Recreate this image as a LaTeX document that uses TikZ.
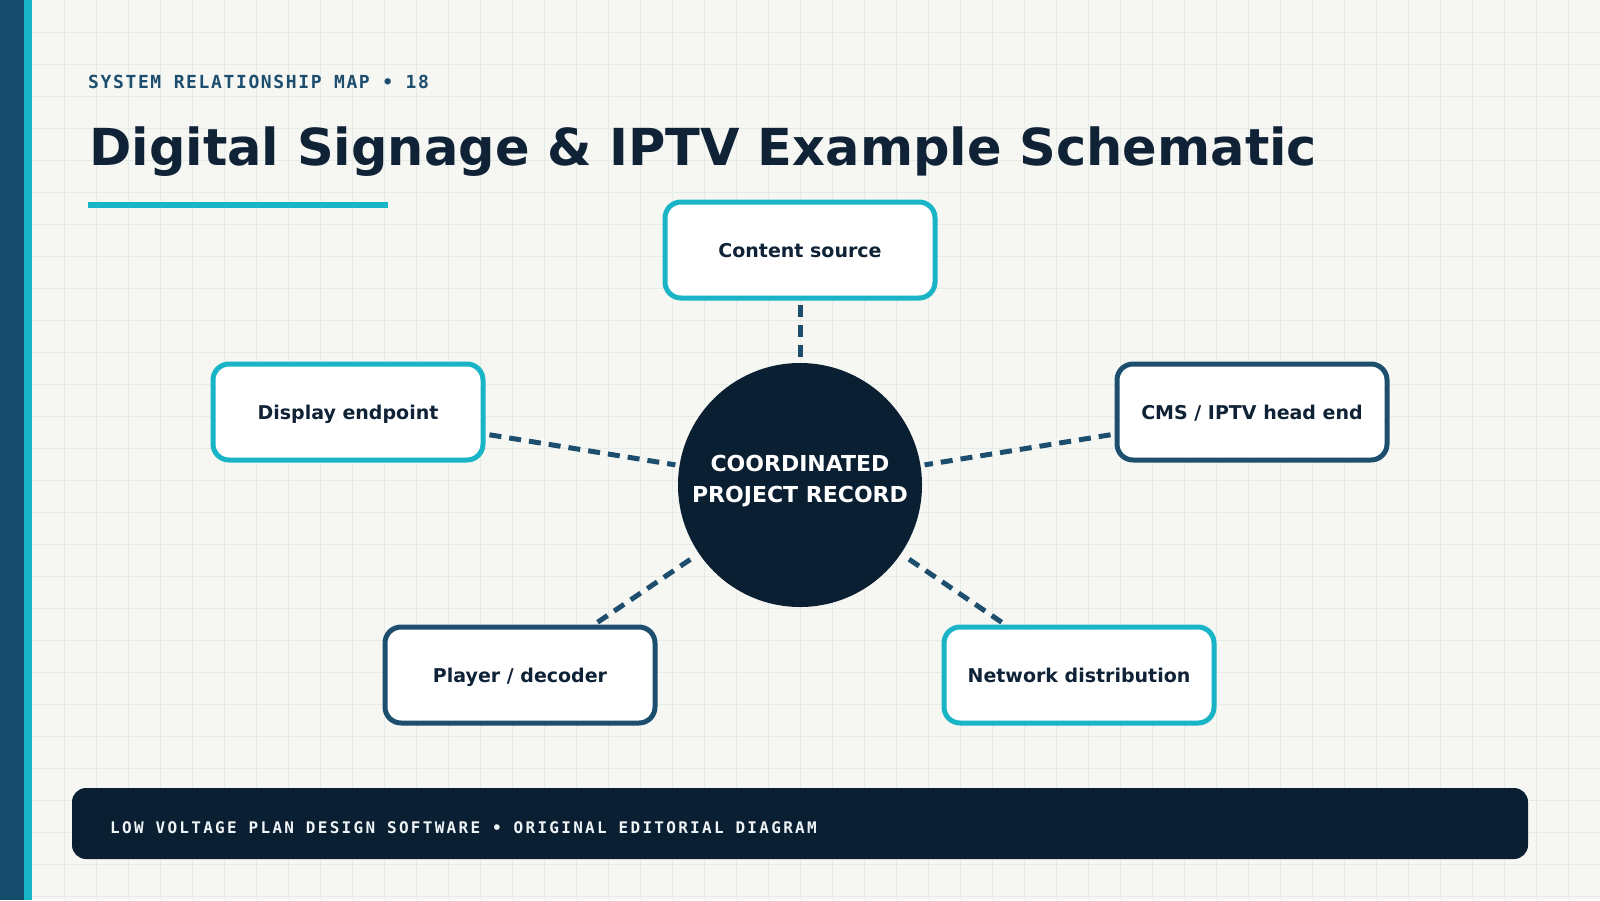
\documentclass[tikz,border=0pt]{standalone}
\usepackage{fontspec}
\setmainfont{DejaVu Sans}
\newfontfamily\monohead[LetterSpace=9]{DejaVu Sans Mono}
\newfontfamily\monofoot[LetterSpace=14.3]{DejaVu Sans Mono}
\definecolor{bgc}{HTML}{F6F7F3}
\definecolor{gridc}{HTML}{E5EBE7}
\definecolor{navy}{HTML}{0B1F33}
\definecolor{steel}{HTML}{1E4E6E}
\definecolor{barc}{HTML}{164C6C}
\definecolor{cyanc}{HTML}{19B4C6}
\definecolor{titlec}{HTML}{0F2236}
\definecolor{foottext}{HTML}{EEF3F5}
\tikzset{
  gridline/.style={draw=gridc, line width=1},
  box/.style={rectangle, rounded corners=16, minimum width=270, minimum height=96,
    line width=5, fill=white, text=titlec, text height=14, text depth=0,
    font=\fontsize{19}{23}\selectfont\bfseries},
  cyanbox/.style={box, draw=cyanc},
  darkbox/.style={box, draw=steel},
  hub/.style={circle, minimum size=244, inner sep=0, fill=navy, text=white,
    font=\fontsize{22}{31}\selectfont\bfseries},
  conn/.style={draw=steel, line width=5, dash pattern=on 12 off 8, shorten <=4, shorten >=4},
}
\begin{document}
\begin{tikzpicture}[x=1pt, y=-1pt]
\useasboundingbox (0,0) rectangle (1600,900);
\fill[bgc] (0,0) rectangle (1600,900);
\foreach \x in {64,96,...,1600} \draw[gridline] (\x,0) -- (\x,900);
\foreach \y in {32,64,...,896} \draw[gridline] (32,\y) -- (1600,\y);
\fill[barc] (0,0) rectangle (24,900);
\fill[cyanc] (24,0) rectangle (32,900);

\node[anchor=base west, inner sep=0, text=steel, font=\monohead\bfseries\fontsize{18}{22}\selectfont] (kicker) at (88,88) {SYSTEM RELATIONSHIP MAP • 18};
\node[anchor=base west, inner sep=0, text=titlec, font=\fontsize{51}{60}\selectfont\bfseries] (title) at (89,165) {Digital Signage \& IPTV Example Schematic};
\fill[cyanc] (88,202) rectangle (388,208);

\node[hub] (hub) at (800,485) {\raisebox{4pt}[\height][\depth]{\begin{tabular}{@{}c@{}}COORDINATED\\PROJECT RECORD\end{tabular}}};
\node[cyanbox] (content) at (800,250) {Content source};
\node[cyanbox] (display) at (348,412) {Display endpoint};
\node[darkbox] (cms) at (1252,412) {CMS / IPTV head end};
\node[darkbox] (player) at (520,675) {Player / decoder};
\node[cyanbox] (network) at (1079,675) {Network distribution};

\draw[conn] (content) -- (hub);
\draw[conn] (display) -- (hub);
\draw[conn] (cms) -- (hub);
\draw[conn] (player) -- (hub);
\draw[conn] (network) -- (hub);

\fill[navy, rounded corners=14] (72,788) rectangle (1528,859);
\node[anchor=base west, inner sep=0, text=foottext, font=\monofoot\bfseries\fontsize{16}{20}\selectfont] (footer) at (110,833) {LOW VOLTAGE PLAN DESIGN SOFTWARE • ORIGINAL EDITORIAL DIAGRAM};
\end{tikzpicture}
\end{document}
